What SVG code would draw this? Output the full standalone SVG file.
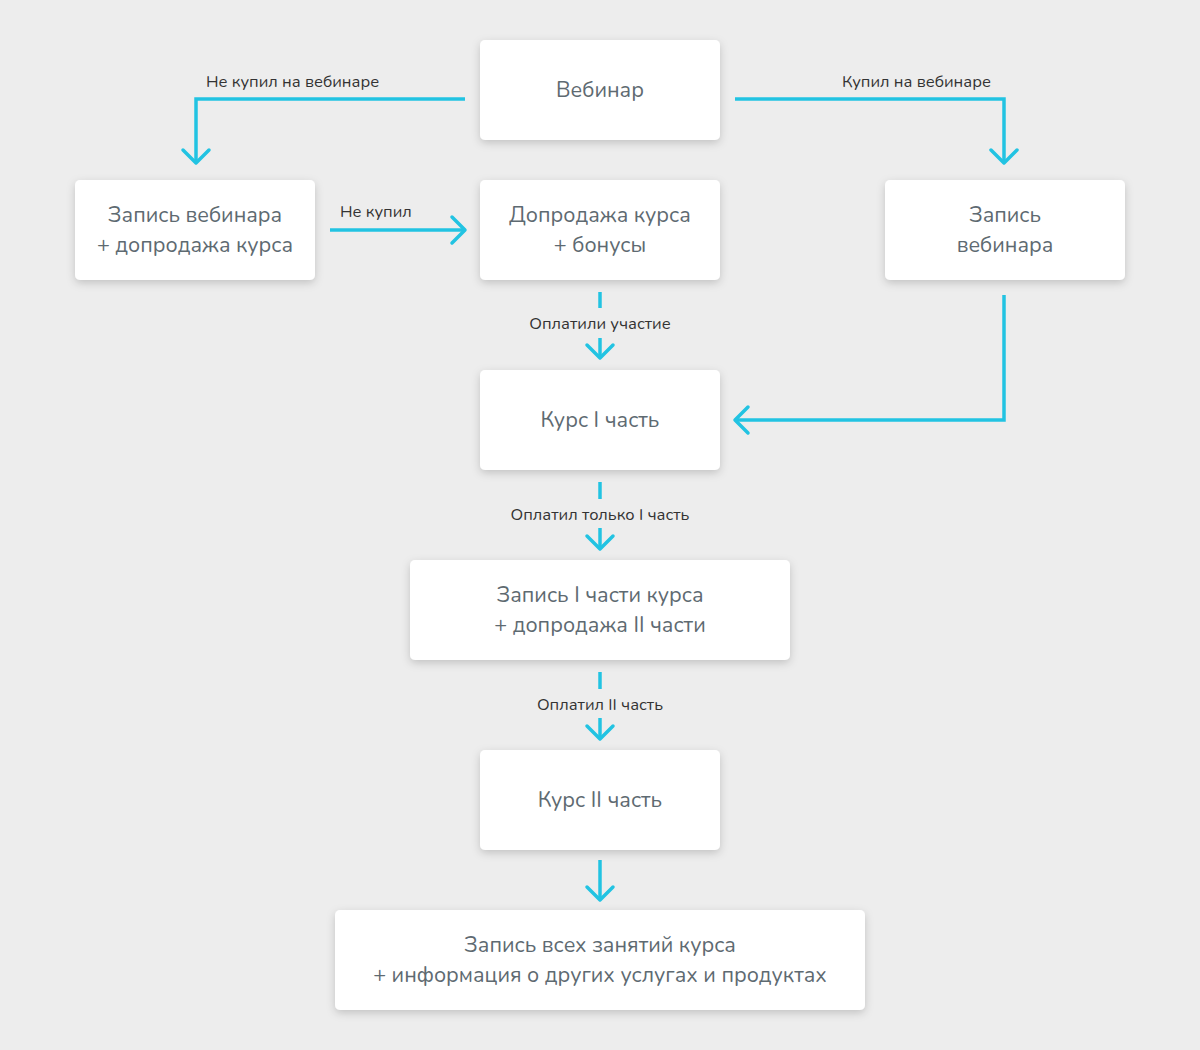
<svg xmlns="http://www.w3.org/2000/svg" width="1200" height="1050" viewBox="0 0 1200 1050">
<defs>
<filter id="sh" x="-20%" y="-30%" width="140%" height="170%">
<feDropShadow dx="0" dy="3" stdDeviation="4" flood-color="#000" flood-opacity="0.18"/>
</filter>
<style>
.box{fill:#fff;filter:url(#sh)}
.nt{font-family:"Nunito","Lato","Noto Sans",sans-serif;font-size:21.5px;fill:#5e6a71;text-anchor:middle}
.lb{font-family:"Nunito","Lato","Noto Sans",sans-serif;font-size:16.5px;fill:#333;}
.ln{fill:none;stroke:#22c3e2;stroke-width:3.5;stroke-linejoin:miter}
.ar{fill:none;stroke:#22c3e2;stroke-width:3.5;stroke-linecap:round;stroke-linejoin:round}
</style>
</defs>
<rect width="1200" height="1050" fill="#ededed"/>
<g id="connectors">
<polyline class="ln" points="465,99 196,99 196,162"/>
<polyline class="ar" points="183,150 196,163 209,150"/>
<text class="lb" x="206" y="87">Не купил на вебинаре</text>
<polyline class="ln" points="735,99 1004,99 1004,162"/>
<polyline class="ar" points="991,150 1004,163 1017,150"/>
<text class="lb" x="842" y="87">Купил на вебинаре</text>
<line class="ln" x1="330" y1="230" x2="464" y2="230"/>
<polyline class="ar" points="452,217 465,230 452,243"/>
<text class="lb" x="340" y="217">Не купил</text>
<line class="ln" x1="600" y1="292" x2="600" y2="308"/>
<line class="ln" x1="600" y1="338" x2="600" y2="356"/>
<polyline class="ar" points="587,345 600,358 613,345"/>
<text class="lb" x="600" y="329" text-anchor="middle">Оплатили участие</text>
<polyline class="ln" points="1004,295 1004,420 736,420"/>
<polyline class="ar" points="748,407 735,420 748,433"/>
<line class="ln" x1="600" y1="482" x2="600" y2="499"/>
<line class="ln" x1="600" y1="528" x2="600" y2="547"/>
<polyline class="ar" points="587,536 600,549 613,536"/>
<text class="lb" x="600" y="520" text-anchor="middle">Оплатил только I часть</text>
<line class="ln" x1="600" y1="672" x2="600" y2="689"/>
<line class="ln" x1="600" y1="718" x2="600" y2="737"/>
<polyline class="ar" points="587,726 600,739 613,726"/>
<text class="lb" x="600" y="710" text-anchor="middle">Оплатил II часть</text>
<line class="ln" x1="600" y1="860" x2="600" y2="898"/>
<polyline class="ar" points="587,887 600,900 613,887"/>
</g>
<g id="n1"><rect class="box" x="480" y="40" width="240" height="100" rx="5"/><text class="nt" x="600" y="97">Вебинар</text></g>
<g id="n2"><rect class="box" x="75" y="180" width="240" height="100" rx="5"/><text class="nt" x="195" y="222">Запись вебинара</text><text class="nt" x="195" y="252">+ допродажа курса</text></g>
<g id="n3"><rect class="box" x="480" y="180" width="240" height="100" rx="5"/><text class="nt" x="600" y="222">Допродажа курса</text><text class="nt" x="600" y="252">+ бонусы</text></g>
<g id="n4"><rect class="box" x="885" y="180" width="240" height="100" rx="5"/><text class="nt" x="1005" y="222">Запись</text><text class="nt" x="1005" y="252">вебинара</text></g>
<g id="n5"><rect class="box" x="480" y="370" width="240" height="100" rx="5"/><text class="nt" x="600" y="427">Курс I часть</text></g>
<g id="n6"><rect class="box" x="410" y="560" width="380" height="100" rx="5"/><text class="nt" x="600" y="602">Запись I части курса</text><text class="nt" x="600" y="632">+ допродажа II части</text></g>
<g id="n7"><rect class="box" x="480" y="750" width="240" height="100" rx="5"/><text class="nt" x="600" y="807">Курс II часть</text></g>
<g id="n8"><rect class="box" x="335" y="910" width="530" height="100" rx="5"/><text class="nt" x="600" y="952">Запись всех занятий курса</text><text class="nt" x="600" y="982">+ информация о других услугах и продуктах</text></g>
</svg>
